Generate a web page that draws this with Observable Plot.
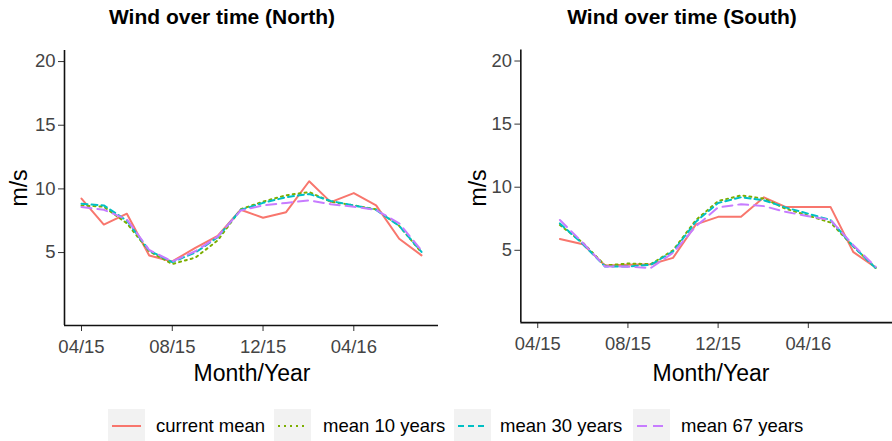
<!DOCTYPE html>
<html>
<head>
<meta charset="utf-8">
<script src="https://cdn.jsdelivr.net/npm/d3@7"></script>
<script src="https://cdn.jsdelivr.net/npm/@observablehq/plot@0.6"></script>
<style>
  body { margin: 0; background: #fff; }
  #root { position: relative; width: 892px; height: 441px; overflow: hidden; background: #fff;
          font-family: "Liberation Sans", Arial, sans-serif; color: #000; }
  .abs { position: absolute; }
  .title { font-weight: bold; font-size: 21px; white-space: nowrap; transform: translateX(-50%); }
  .xlab { font-size: 23px; white-space: nowrap; transform: translateX(-50%); }
  .ylab { font-size: 23px; white-space: nowrap; transform: translate(-50%, -50%) rotate(-90deg); }
  .key { background: #f2f2f2; width: 37px; height: 34px; }
  .ltext { font-size: 18.5px; white-space: nowrap; color: #000; }
</style>
</head>
<body>
<div id="root"></div>
<script>
// ---------------- data ----------------
const northMonths = ["2015-04","2015-05","2015-06","2015-07","2015-08","2015-09","2015-10","2015-11","2015-12","2016-01","2016-02","2016-03","2016-04","2016-05","2016-06","2016-07"];
const northCurrent = [9.24, 7.2, 8.05, 4.77, 4.3, 5.37, 6.3, 8.36, 7.73, 8.17, 10.6, 8.96, 9.67, 8.7, 6.08, 4.78];
const north10 = [8.7, 8.6, 7.3, 5.1, 4.1, 4.6, 5.95, 8.4, 9.0, 9.5, 9.75, 9.0, 8.7, 8.4, 7.1, 5.0];
const north30 = [8.84, 8.7, 7.5, 5.15, 4.25, 5.0, 6.2, 8.35, 8.9, 9.35, 9.6, 9.05, 8.7, 8.35, 7.1, 5.05];
const north67 = [8.58, 8.36, 7.6, 5.2, 4.3, 5.1, 6.25, 8.3, 8.7, 8.9, 9.1, 8.8, 8.6, 8.35, 7.3, 5.15];

const southMonths = ["2015-05","2015-06","2015-07","2015-08","2015-09","2015-10","2015-11","2015-12","2016-01","2016-02","2016-03","2016-04","2016-05","2016-06","2016-07"];
const southCurrent = [5.9, 5.48, 3.8, 3.86, 3.9, 4.4, 7.05, 7.65, 7.65, 9.2, 8.44, 8.44, 8.44, 4.85, 3.65];
const south10 = [7.0, 5.6, 3.8, 3.95, 3.9, 5.0, 7.4, 8.9, 9.35, 9.1, 8.3, 7.75, 7.2, 5.3, 3.6];
const south30 = [7.13, 5.5, 3.72, 3.72, 3.86, 4.9, 7.27, 8.75, 9.2, 8.96, 8.4, 7.9, 7.4, 5.3, 3.6];
const south67 = [7.4, 5.6, 3.72, 3.7, 3.6, 4.8, 6.9, 8.4, 8.65, 8.5, 8.05, 7.7, 7.4, 5.4, 3.7];

const seriesNames = ["current mean", "mean 10 years", "mean 30 years", "mean 67 years"];
const seriesColors = ["#F8766D", "#7CAE00", "#00BFC4", "#C77CFF"];
const seriesDash = [null, "2,4", "6,4", "10,6"];

const xTickLabels = ["2015-04", "2015-08", "2015-12", "2016-04"];
const yTicks = [5, 10, 15, 20];
const titles = ["Wind over time (North)", "Wind over time (South)"];

// ---------------- build ----------------
const parse = d3.utcParse("%Y-%m");
const fmt = d3.utcFormat("%m/%y");
const xTicks = xTickLabels.map(parse);
// shared x range (ggplot style 5% expansion over the full month range)
const x0 = parse(northMonths[0]), x1 = parse(northMonths[northMonths.length - 1]);
const span = x1 - x0;
const xDomain = [new Date(+x0 - 0.05 * span), new Date(+x1 + 0.05 * span)];
const yDomain = [-0.73, 20.87];

function makeRows(months, arrays) {
  const rows = [];
  arrays.forEach((vals, i) => {
    vals.forEach((v, j) => rows.push({date: parse(months[j]), value: v, series: seriesNames[i]}));
  });
  return rows;
}

function panel(rows, width, marginLeft, marginRight) {
  const marks = [
    Plot.axisX({ticks: xTicks, tickFormat: fmt, tickSize: 6, tickPadding: 8, label: null,
                stroke: "#333", fill: "#444", fontSize: 18.5}),
    Plot.axisY({ticks: yTicks, tickSize: 6, tickPadding: 3, label: null,
                stroke: "#333", fill: "#444", fontSize: 18.5}),
  ];
  seriesNames.forEach((name, i) => {
    marks.push(Plot.line(rows.filter(d => d.series === name), {
      x: "date", y: "value", stroke: seriesColors[i], strokeWidth: 2,
      strokeDasharray: seriesDash[i] || undefined
    }));
  });
  marks.push(Plot.ruleY([yDomain[0]], {stroke: "#111", strokeWidth: 1.6}));
  marks.push(Plot.ruleX([xDomain[0]], {stroke: "#111", strokeWidth: 1.6}));
  return Plot.plot({
    width, height: 395,
    marginLeft, marginRight, marginTop: 50, marginBottom: 70,
    style: {fontFamily: '"Liberation Sans", Arial, sans-serif', fontSize: "18.5px", background: "transparent", overflow: "visible"},
    x: {type: "utc", domain: xDomain},
    y: {domain: yDomain},
    marks
  });
}

const root = document.getElementById("root");
function add(el, left, top) {
  const w = document.createElement("div");
  w.className = "abs";
  w.style.left = left + "px";
  w.style.top = top + "px";
  w.appendChild(el);
  root.appendChild(w);
  return w;
}
function addText(text, cls, left, top) {
  const d = document.createElement("div");
  d.className = "abs " + cls;
  d.style.left = left + "px";
  d.style.top = top + "px";
  d.textContent = text;
  root.appendChild(d);
  return d;
}

add(panel(makeRows(northMonths, [northCurrent, north10, north30, north67]), 446, 64, 8), 0, 0);
add(panel(makeRows(southMonths, [southCurrent, south10, south30, south67]), 450, 75, 0), 446, 0);

addText(titles[0], "title", 222, 5);
addText(titles[1], "title", 682, 5);
addText("m/s", "ylab", 19, 188);
addText("m/s", "ylab", 478, 188);
addText("Month/Year", "xlab", 252, 360);
addText("Month/Year", "xlab", 711, 360);

// legend
const keyX = [108, 274, 454, 633];
const textX = [156, 323, 500, 681];
seriesNames.forEach((name, i) => {
  const k = document.createElement("div");
  k.className = "abs key";
  k.style.left = keyX[i] + "px";
  k.style.top = "409px";
  const ns = "http://www.w3.org/2000/svg";
  const s = document.createElementNS(ns, "svg");
  s.setAttribute("width", 37); s.setAttribute("height", 34);
  const l = document.createElementNS(ns, "line");
  l.setAttribute("x1", 4); l.setAttribute("x2", 33);
  l.setAttribute("y1", 17); l.setAttribute("y2", 17);
  l.setAttribute("stroke", seriesColors[i]);
  l.setAttribute("stroke-width", 2);
  if (seriesDash[i]) l.setAttribute("stroke-dasharray", seriesDash[i]);
  s.appendChild(l);
  k.appendChild(s);
  root.appendChild(k);
  addText(name, "ltext", textX[i], 415);
});
</script>
</body>
</html>
